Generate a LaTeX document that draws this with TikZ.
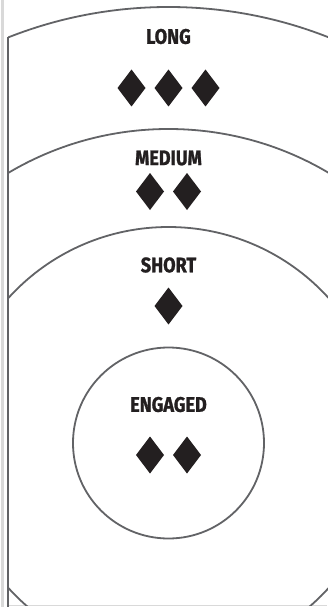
\documentclass[tikz,border=0pt]{standalone}
\usepackage{fontspec}
\newfontfamily\lblfont[FakeStretch=0.86, BoldFeatures={FakeBold=1.2}]{Fira Sans}
\definecolor{ringgray}{HTML}{626366}
\definecolor{inkdark}{HTML}{231F20}
\definecolor{edgegray}{HTML}{D9D9D9}
\tikzset{
  ring/.style={draw=ringgray, line width=1.8pt},
  zonelabel/.style={font=\lblfont\bfseries\fontsize{21}{21}\selectfont, text=inkdark, inner sep=0pt},
  gem/.pic={\fill[inkdark] (0,-18.5) -- (14,0) -- (0,18.5) -- (-14,0) -- cycle;},
}
\begin{document}
\begin{tikzpicture}[x=1pt,y=-1pt]
\useasboundingbox (0,0) rectangle (327,607);
\fill[white] (0,0) rectangle (327,607);
% left light strip and bottom light line
\fill[edgegray] (1,0) rectangle (3.5,607);
\draw[edgegray, line width=1.5pt] (8,605.5) -- (327,605.5);
\coordinate (ctr) at (168.5,443);
\begin{scope}
  \clip (8,0) rectangle (330,605);
  \draw[ring] (ctr) circle[radius=436];
  \draw[ring] (ctr) circle[radius=314];
  \draw[ring] (ctr) circle[radius=216];
\end{scope}
\coordinate (wallTop) at (8,37.5);
\coordinate (wallBot) at (8,607);
\draw[ring] (wallTop) -- (wallBot);
\node[ring, circle, minimum size=191pt, inner sep=0pt] (engaged) at (ctr) {};
% labels
\node[zonelabel] (long) at (168.5,36.5) {LONG};
\node[zonelabel] (medium) at (168.5,158) {MEDIUM};
\node[zonelabel] (short) at (168.5,265) {SHORT};
\node[zonelabel] (eng) at (168.5,404.5) {ENGAGED};
% diamonds
\pic (l1) at (131.5,88) {gem};
\pic (l2) at (168.5,88) {gem};
\pic (l3) at (205.5,88) {gem};
\pic (m1) at (150,191.5) {gem};
\pic (m2) at (187,191.5) {gem};
\pic (s1) at (168.5,306) {gem};
\pic (e1) at (150,455) {gem};
\pic (e2) at (187,455) {gem};
\end{tikzpicture}
\end{document}
